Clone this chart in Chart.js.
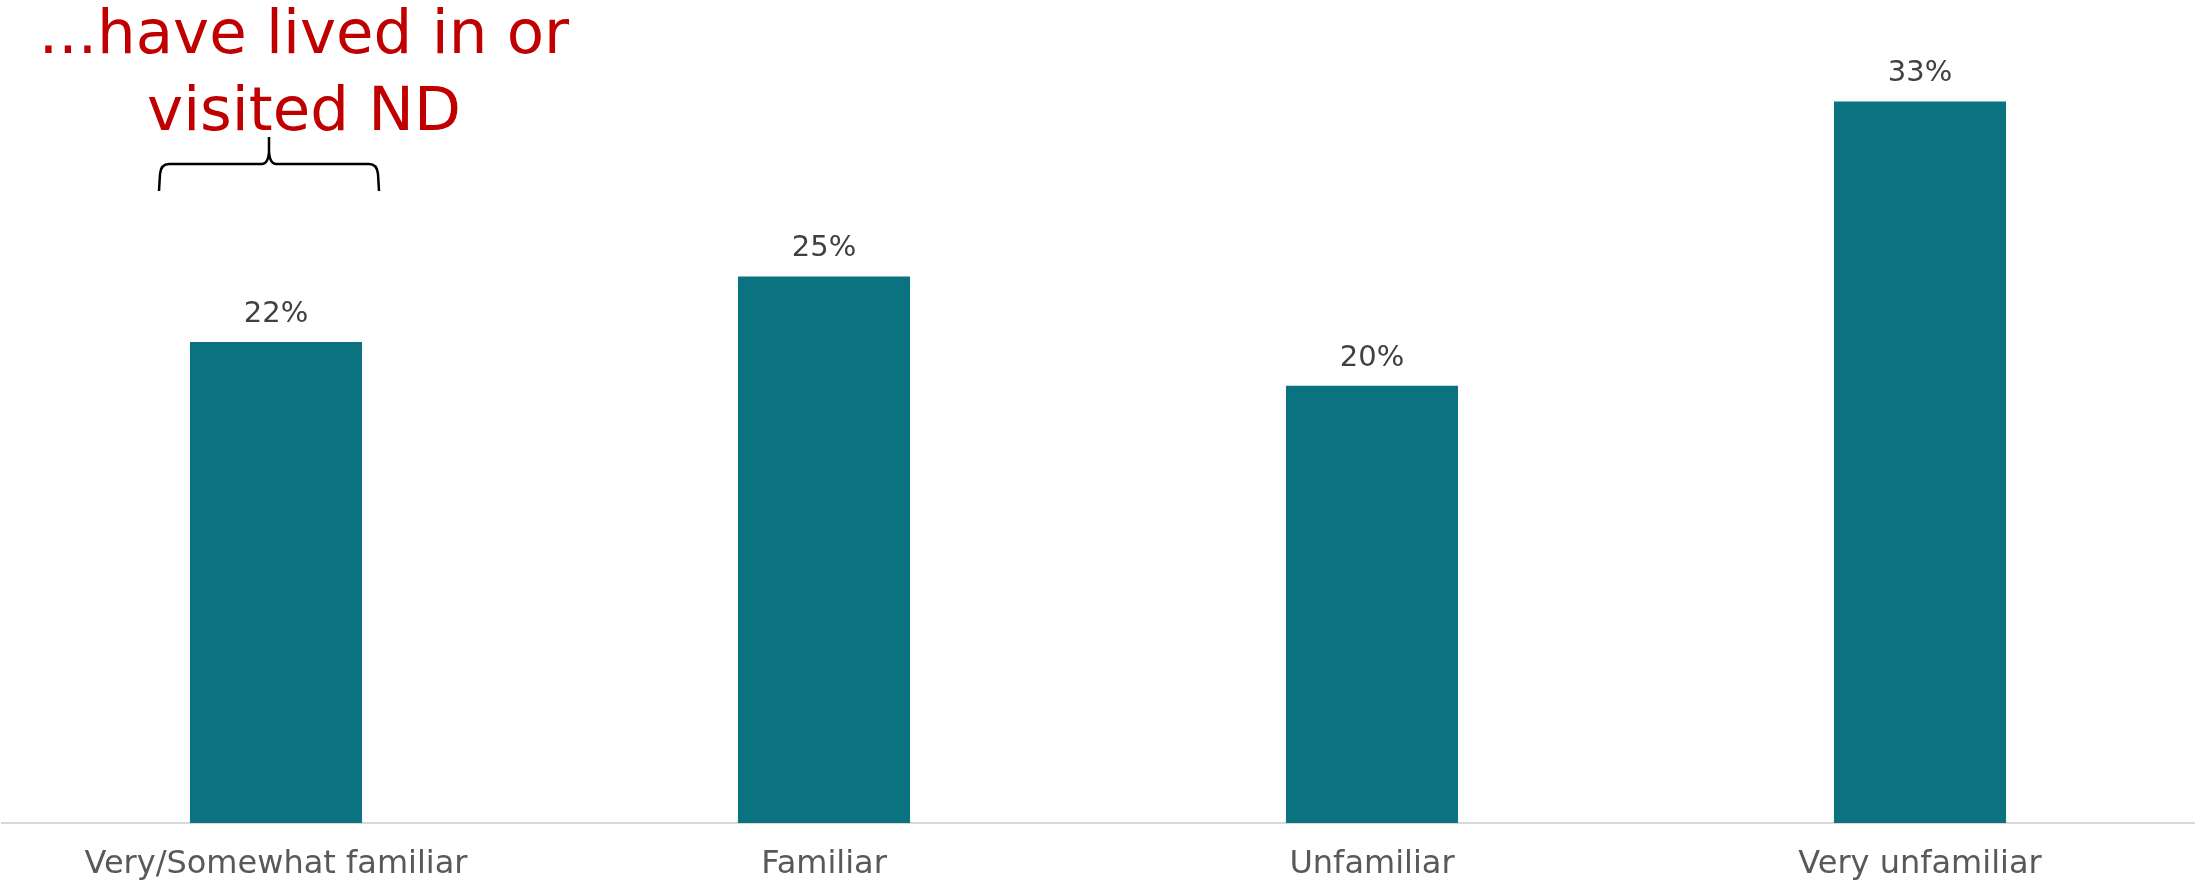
<!DOCTYPE html>
<html>
<head>
<meta charset="utf-8">
<script src="https://cdn.jsdelivr.net/npm/chart.js"></script>
<style>
  body { margin: 0; background: #fff; }
  #wrap { width: 2196px; height: 882px; }
</style>
</head>
<body>
<div id="wrap"><canvas id="myChart"></canvas></div>
<script>
const categories = ['Very/Somewhat familiar', 'Familiar', 'Unfamiliar', 'Very unfamiliar'];
const shares = [22, 25, 20, 33];
const noteLines = ['...have lived in or', 'visited ND'];

Chart.defaults.font.family = "'DejaVu Sans', sans-serif";

// percent labels above each bar
const valueLabels = {
  id: 'valueLabels',
  afterDatasetsDraw(chart) {
    const ctx = chart.ctx;
    const meta = chart.getDatasetMeta(0);
    ctx.save();
    ctx.font = "29px 'DejaVu Sans'";
    ctx.fillStyle = '#404040';
    ctx.textAlign = 'center';
    ctx.textBaseline = 'alphabetic';
    meta.data.forEach(function(bar, i) {
      ctx.fillText(shares[i] + '%', bar.x, bar.y - 20);
    });
    ctx.restore();
  }
};

// red note and curly brace over the first bar
const braceNote = {
  id: 'braceNote',
  afterDraw(chart) {
    const ctx = chart.ctx;
    const cx = chart.scales.x.getPixelForValue(0) - 7;
    const L = cx - 110, R = cx + 110;
    ctx.save();
    ctx.font = "61px 'DejaVu Sans'";
    ctx.fillStyle = '#C00000';
    ctx.textAlign = 'center';
    ctx.textBaseline = 'alphabetic';
    ctx.fillText(noteLines[0], 304, 53);
    ctx.fillText(noteLines[1], 304, 130);

    ctx.strokeStyle = '#000';
    ctx.lineWidth = 2.5;
    ctx.beginPath();
    ctx.moveTo(L, 191);
    ctx.lineTo(L + 1, 174);
    ctx.quadraticCurveTo(L + 2, 164, L + 10, 164);
    ctx.lineTo(cx - 7, 164);
    ctx.quadraticCurveTo(cx - 1, 164, cx, 152);
    ctx.lineTo(cx, 137);
    ctx.moveTo(cx, 152);
    ctx.quadraticCurveTo(cx + 1, 164, cx + 7, 164);
    ctx.lineTo(R - 10, 164);
    ctx.quadraticCurveTo(R - 2, 164, R - 1, 174);
    ctx.lineTo(R, 191);
    ctx.stroke();
    ctx.restore();
  }
};

new Chart(document.getElementById('myChart'), {
  type: 'bar',
  data: {
    labels: categories,
    datasets: [{
      data: shares,
      backgroundColor: '#0B7380',
      categoryPercentage: 1,
      barPercentage: 0.314
    }]
  },
  options: {
    responsive: true,
    maintainAspectRatio: false,
    animation: false,
    layout: { padding: { top: 14, left: 2, right: 2, bottom: 0 } },
    plugins: {
      legend: { display: false },
      tooltip: { enabled: false }
    },
    scales: {
      x: {
        grid: { display: false },
        border: { display: true, color: '#d9d9d9', width: 2 },
        ticks: { color: '#595959', font: { size: 32 }, padding: 14 },
        afterFit(scale) { scale.height = 59; }
      },
      y: {
        display: false,
        min: 0,
        max: 37
      }
    }
  },
  plugins: [valueLabels, braceNote]
});
</script>
</body>
</html>
